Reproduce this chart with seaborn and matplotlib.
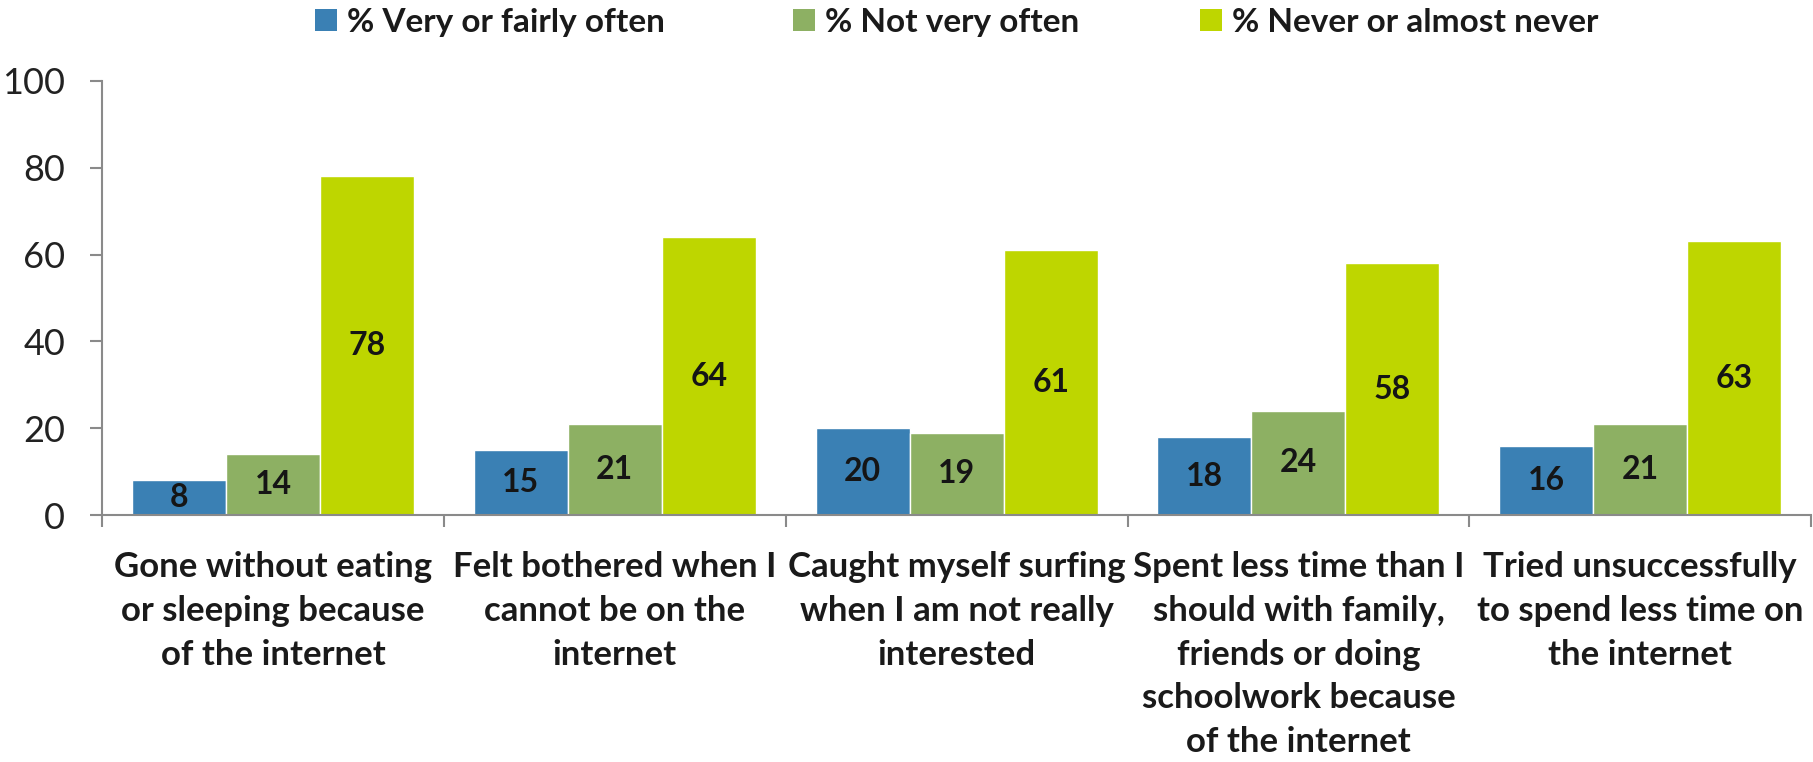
import matplotlib

matplotlib.use("Agg")
import matplotlib.pyplot as plt
import pandas as pd
import seaborn as sns
from matplotlib.patches import Patch
from matplotlib.ticker import FixedLocator

# --- Data
items = [
    "Gone without eating\nor sleeping because\nof the internet",
    "Felt bothered when I\ncannot be on the\ninternet",
    "Caught myself surfing\nwhen I am not really\ninterested",
    "Spent less time than I\nshould with family,\nfriends or doing\nschoolwork because\nof the internet",
    "Tried unsuccessfully\nto spend less time on\nthe internet",
]
series = ["% Very or fairly often", "% Not very often", "% Never or almost never"]
very_often = [8, 15, 20, 18, 16]
not_often = [14, 21, 19, 24, 21]
never = [78, 64, 61, 58, 63]
colors = ["#3A80B4", "#8DB063", "#BED600"]

df = pd.DataFrame(
    {
        "item": items * 3,
        "series": [s for s in series for _ in items],
        "pct": very_often + not_often + never,
    }
)

sns.set_style("white")
plt.rcParams["font.family"] = ["Lato", "DejaVu Sans"]

fig = plt.figure(figsize=(18.13, 7.62), dpi=100)
ax = fig.add_axes([0.0563, 0.324, 0.9427, 0.570])

sns.barplot(
    data=df,
    x="item",
    y="pct",
    hue="series",
    hue_order=series,
    palette=colors,
    saturation=1,
    width=0.825,
    legend=False,
    ax=ax,
)

# Value labels in the middle of each bar
for container in ax.containers:
    ax.bar_label(container, label_type="center", fontsize=23, fontweight="bold", color="#151515")

# Axes styling
ax.set_ylim(0, 100)
ax.set_xlim(-0.5, len(items) - 0.5)
ax.set_yticks([0, 20, 40, 60, 80, 100])
ax.set_xlabel("")
ax.set_ylabel("")
for side in ["top", "right"]:
    ax.spines[side].set_visible(False)
for side in ["left", "bottom"]:
    ax.spines[side].set_color("#8a8a8a")
    ax.spines[side].set_linewidth(1.5)

ax.tick_params(axis="y", length=8.6, width=1.5, color="#8a8a8a", labelsize=26,
               labelcolor="#222222", pad=18, left=True)
ax.tick_params(axis="x", which="major", length=0, pad=26, labelsize=25, labelcolor="#1a1a1a")
ax.xaxis.set_minor_locator(FixedLocator([i - 0.5 for i in range(len(items) + 1)]))
ax.tick_params(axis="x", which="minor", length=8.6, width=1.5, color="#8a8a8a", bottom=True)
for lab in ax.get_xticklabels():
    lab.set_fontweight("bold")
    lab.set_linespacing(1.45)
    lab.set_va("top")

# Legend: three separate entries, placed as in the reference
legend_x = [0.1737, 0.4374, 0.6619]
for x, name, col in zip(legend_x, series, colors):
    fig.legend(
        handles=[Patch(facecolor=col, edgecolor="none")],
        labels=[name],
        loc="center left",
        bbox_to_anchor=(x, 0.971),
        frameon=False,
        prop={"weight": "bold", "size": 24},
        labelcolor="#1a1a1a",
        handlelength=0.67,
        handleheight=0.67,
        handletextpad=0.3,
        borderaxespad=0,
        borderpad=0,
    )

fig.savefig("out.png", dpi=100, facecolor="white")
